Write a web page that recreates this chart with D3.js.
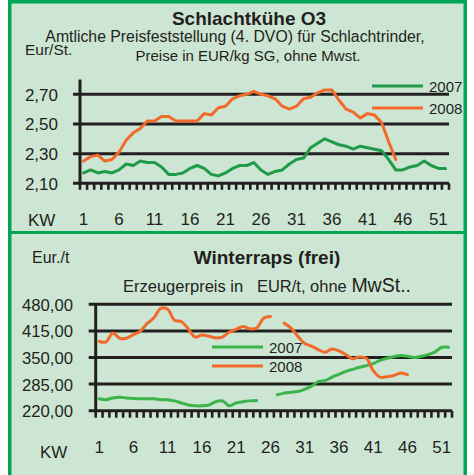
<!DOCTYPE html>
<html>
<head>
<meta charset="utf-8">
<script src="https://cdn.jsdelivr.net/npm/d3@7"></script>
<style>
body { margin: 0; background: #fff; }
svg text { font-family: "Liberation Sans", Arial, sans-serif; fill: #231f20; }
</style>
</head>
<body>
<div id="chart"></div>
<script>

// Kalenderwochen
var weeks = d3.range(1, 53);
var kwLabels = [1, 6, 11, 16, 21, 26, 31, 36, 41, 46, 51];

// Schlachtkühe O3, EUR/kg SG
var kuehe2007 = [2.17, 2.19, 2.17, 2.18, 2.17, 2.19, 2.23, 2.22, 2.25, 2.24,
                 2.24, 2.21, 2.16, 2.16, 2.17, 2.20, 2.22, 2.20, 2.16, 2.15,
                 2.17, 2.20, 2.22, 2.22, 2.24, 2.19, 2.16, 2.18, 2.19, 2.23,
                 2.26, 2.27, 2.34, 2.37, 2.40, 2.38, 2.36, 2.35, 2.33, 2.35,
                 2.34, 2.33, 2.32, 2.26, 2.19, 2.19, 2.21, 2.22, 2.25, 2.22,
                 2.20, 2.20];
var kuehe2008 = [2.25, 2.28, 2.29, 2.25, 2.26, 2.31, 2.39, 2.44, 2.47, 2.52,
                 2.52, 2.55, 2.55, 2.52, 2.52, 2.52, 2.52, 2.57, 2.56, 2.61,
                 2.62, 2.67, 2.69, 2.70, 2.72, 2.70, 2.69, 2.67, 2.62, 2.60,
                 2.62, 2.67, 2.68, 2.71, 2.73, 2.73, 2.66, 2.60, 2.58, 2.54,
                 2.57, 2.56, 2.51, 2.38, 2.26];
var kueheTicks = [2.10, 2.30, 2.50, 2.70];

// Winterraps, EUR/t
var raps2007 = [249, 247, 251, 253, 251, 250, 249, 249, 249, 247,
                247, 244, 239, 234, 232, 232, 234, 242, 244, 232,
                239, 242, 244, 245, null, null, 259, 263, 265, 267,
                272, 280, 291, 294, 302, 309, 316, 321, 326, 330,
                335, 343, 348, 352, 355, 353, 350, 353, 357, 363,
                375, 375];
var raps2008 = [389, 388, 410, 397, 397, 406, 414, 433, 447, 470,
                468, 441, 438, 420, 400, 405, 402, 398, 400, 412,
                419, 426, 420, 422, 446, 450, null, 434, 422, 402,
                384, 378, 369, 363, 371, 366, 357, 347, 351, 348,
                318, 302, 303, 306, 312, 308];
var rapsTicks = [220, 285, 350, 415, 480];

var ink = "#231f20", frameGreen = "#00a651", bg = "#cde6d4";
var orange = "#f26a2a";

var width = 474, height = 475;
var svg = d3.select("#chart").append("svg").attr("width", width).attr("height", height);

// Rahmen
svg.append("rect").attr("x", 8).attr("y", 0).attr("width", 459).attr("height", 475).attr("fill", frameGreen);
svg.append("rect").attr("x", 11.5).attr("y", 3.5).attr("width", 452).attr("height", 227.5).attr("fill", bg);
svg.append("rect").attr("x", 11.5).attr("y", 234).attr("width", 452).attr("height", 245).attr("fill", bg);

function drawPanel(p) {
  var x = d3.scaleBand().domain(weeks).range([p.left, p.right]);
  var y = d3.scaleLinear().domain(p.domain).range([p.bottom, p.top]);
  var g = svg.append("g");

  g.selectAll("line.grid").data(p.ticks).enter().append("line")
    .attr("class", "grid")
    .attr("x1", p.left - 7).attr("x2", p.right)
    .attr("y1", function(d) { return y(d); }).attr("y2", function(d) { return y(d); })
    .attr("stroke", ink).attr("stroke-width", 3);

  g.selectAll("text.ylab").data(p.ticks).enter().append("text")
    .attr("class", "ylab")
    .attr("x", p.labelX).attr("y", function(d) { return y(d) + 6.5; })
    .attr("text-anchor", "end").attr("font-size", p.yFont)
    .text(function(d) { return d3.format(p.fmt)(d).replace(".", ","); });

  g.append("line")
    .attr("x1", p.left).attr("x2", p.left)
    .attr("y1", y(p.domain[1])).attr("y2", p.bottom + 1.5)
    .attr("stroke", ink).attr("stroke-width", 3);

  // Wochenstriche
  g.selectAll("rect.xt").data(weeks.concat([53])).enter().append("rect")
    .attr("class", "xt")
    .attr("x", function(d) { return (d > 52 ? p.right : x(d)) - 1.3; })
    .attr("y", p.bottom).attr("width", 2.6).attr("height", p.tickLen)
    .attr("fill", ink);

  g.selectAll("text.xlab").data(kwLabels).enter().append("text")
    .attr("class", "xlab")
    .attr("x", function(d) { return x(d) + x.bandwidth() / 2; })
    .attr("y", p.xLabelY).attr("text-anchor", "middle").attr("font-size", 17)
    .text(function(d) { return d; });

  g.append("text").attr("x", p.kwX).attr("y", p.kwY).attr("font-size", 17).text("KW");

  var line = d3.line()
    .defined(function(d) { return d != null; })
    .x(function(d, i) { return x(weeks[i]) + x.bandwidth() / 2; })
    .y(function(d) { return y(d); })
    .curve(p.curve);

  p.series.forEach(function(s) {
    g.append("path").datum(s.values)
      .attr("d", line).attr("fill", "none")
      .attr("stroke", s.color).attr("stroke-width", 3)
      .attr("stroke-linejoin", "round").attr("stroke-linecap", "round");
  });

  p.series.forEach(function(s, i) {
    var ly = p.legendY + i * p.legendGap;
    g.append("line").attr("x1", p.legendX).attr("x2", p.legendX + 51)
      .attr("y1", ly).attr("y2", ly).attr("stroke", s.color).attr("stroke-width", 3);
    g.append("text").attr("x", p.legendX + 57).attr("y", ly + 5.5)
      .attr("font-size", 15).text(s.name);
  });
}

// Oben: Schlachtkühe
svg.append("text").attr("x", 249).attr("y", 25).attr("text-anchor", "middle")
  .attr("font-size", 19).attr("font-weight", "bold").text("Schlachtkühe O3");
svg.append("text").attr("x", 235).attr("y", 42).attr("text-anchor", "middle")
  .attr("font-size", 15.8).text("Amtliche Preisfeststellung (4. DVO) für Schlachtrinder,");
svg.append("text").attr("x", 248).attr("y", 61).attr("text-anchor", "middle")
  .attr("font-size", 15).text("Preise in EUR/kg SG, ohne Mwst.");
svg.append("text").attr("x", 25).attr("y", 55).attr("font-size", 15.5).text("Eur/St.");

drawPanel({
  left: 80, right: 449, top: 79.5, bottom: 183.3,
  domain: [2.10, 2.80], ticks: kueheTicks, fmt: ".2f", yFont: 17, labelX: 58,
  tickLen: 6.5, xLabelY: 225, kwX: 28, kwY: 226,
  curve: d3.curveLinear,
  legendX: 372, legendY: 86, legendGap: 22,
  series: [{ name: "2007", values: kuehe2007, color: "#1e9a48" },
           { name: "2008", values: kuehe2008, color: orange }]
});

// Unten: Winterraps
svg.append("text").attr("x", 267).attr("y", 264).attr("text-anchor", "middle")
  .attr("font-size", 19).attr("font-weight", "bold").text("Winterraps (frei)");
var sub = svg.append("text").attr("x", 267).attr("y", 292).attr("text-anchor", "middle")
  .attr("font-size", 16.5).attr("xml:space", "preserve").style("white-space", "pre");
sub.append("tspan").text("Erzeugerpreis in   EUR/t, ohne ");
sub.append("tspan").attr("font-size", 19.5).text("MwSt..");
svg.append("text").attr("x", 32).attr("y", 263).attr("font-size", 16).text("Eur./t");

drawPanel({
  left: 95.7, right: 452, top: 304.3, bottom: 410.7,
  domain: [220, 480], ticks: rapsTicks, fmt: ".2f", yFont: 16.7, labelX: 73,
  tickLen: 7, xLabelY: 453, kwX: 40, kwY: 458,
  curve: d3.curveCatmullRom.alpha(0.5),
  legendX: 212, legendY: 347, legendGap: 19,
  series: [{ name: "2007", values: raps2007, color: "#3bb44a" },
           { name: "2008", values: raps2008, color: orange }]
});

</script>
</body>
</html>
